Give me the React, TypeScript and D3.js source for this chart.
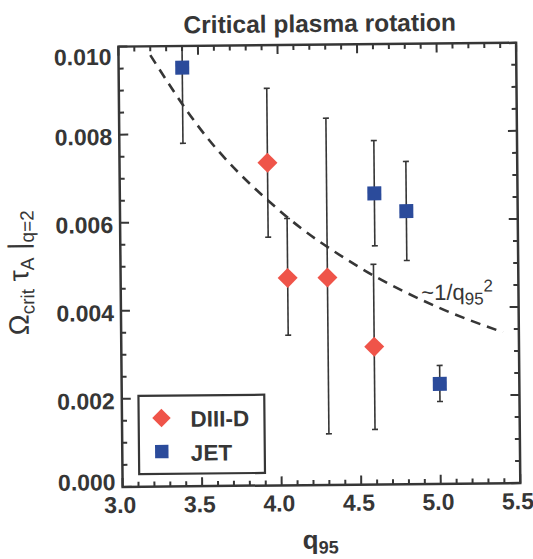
import React from 'react';
import * as d3 from 'd3';

// ---- data ----
const xTicks = [3.0, 3.5, 4.0, 4.5, 5.0, 5.5];
const yTicks = [0.0, 0.002, 0.004, 0.006, 0.008, 0.01];

const jetQ = [3.4, 4.6, 4.8, 5.0];
const jetVal = [0.00951, 0.00661, 0.0062, 0.00227];
const jetLow = [0.00779, 0.00542, 0.00508, 0.00187];
const jetHigh = [0.0101, 0.00781, 0.00733, 0.00269];

const diiidQ = [3.93, 4.05, 4.3, 4.59];
const diiidVal = [0.00733, 0.00471, 0.00471, 0.00313];
const diiidLow = [0.00564, 0.00341, 0.00116, 0.00125];
const diiidHigh = [0.00902, 0.00606, 0.00833, 0.005];

const curveQ = [3.2, 3.5, 4.0, 4.5, 5.0, 5.4];
const curveVal = [0.0098, 0.00816, 0.00625, 0.00494, 0.004, 0.00343];

const legendLabels = ['DIII-D', 'JET'];

// ---- layout ----
const W = 533;
const H = 559;
const L = 120.5;
const R = 518.2;
const T = 44.7;
const B = 485;
const INK = '#363636';
const RED = '#ef5449';
const BLUE = '#2b4b9b';
const FONT = "'Liberation Sans', Arial, Helvetica, sans-serif";

export default function App() {
  const x = d3.scaleLinear().domain([3.0, 5.5]).range([L, R]);
  const y = d3.scaleLinear().domain([0, 0.01]).range([B, T]);

  const xMinor = d3.range(0, 26).filter((i) => i % 5 !== 0).map((i) => 3 + i * 0.1);
  const yMinor = d3.range(0, 21).filter((i) => i % 4 !== 0).map((i) => i * 0.0005);

  const line = d3
    .line<number>()
    .x((_, i) => x(curveQ[i]))
    .y((d) => y(d))
    .curve(d3.curveMonotoneX);

  const diamond = d3.symbol().type(d3.symbolSquare).size(200)();
  const square = d3.symbol().type(d3.symbolSquare).size(196)();
  const legDiamond = d3.symbol().type(d3.symbolSquare).size(170)();
  const legSquare = d3.symbol().type(d3.symbolSquare).size(180)();

  const errBar = (q: number, lo: number, hi: number, key: string) => {
    const cx = x(q);
    const y1 = y(lo);
    const y2 = y(hi);
    return (
      <g key={key} stroke={INK} strokeWidth={1.6}>
        <line x1={cx} x2={cx} y1={y1} y2={y2} />
        <line x1={cx - 3} x2={cx + 3} y1={y1} y2={y1} />
        <line x1={cx - 3} x2={cx + 3} y1={y2} y2={y2} />
      </g>
    );
  };

  const yLabelPos = (v: number) => {
    const c = y(v) + 2;
    return Math.min(Math.max(c, T + 10), B - 5) + 8.2;
  };

  return (
    <svg
      width={W}
      height={H}
      style={{ position: 'absolute', left: 0, top: 0, background: '#fff' }}
      fontFamily={FONT}
    >
      <defs>
        <clipPath id="plotClip">
          <rect x={L} y={T} width={R - L} height={B - T} />
        </clipPath>
      </defs>
      <g transform="rotate(-0.55 319.35 264.85)">
        {/* title */}
        <text x={322} y={32} textAnchor="middle" fontSize={24.5} fontWeight="bold" fill={INK}>
          Critical plasma rotation
        </text>

        {/* fit curve */}
        <path
          d={line(curveVal) || ''}
          fill="none"
          stroke={INK}
          strokeWidth={2.6}
          strokeDasharray="10,7"
          clipPath="url(#plotClip)"
        />
        <text x={421} y={301} fontSize={22} fill={INK}>
          ~1/q
          <tspan fontSize={17} dy={5}>95</tspan>
          <tspan fontSize={17} dy={-13}>2</tspan>
        </text>

        {/* error bars */}
        <g clipPath="url(#plotClip)">
          {diiidQ.map((q, i) => errBar(q, diiidLow[i], diiidHigh[i], 'd' + i))}
          {jetQ.map((q, i) => errBar(q, jetLow[i], jetHigh[i], 'j' + i))}
        </g>

        {/* markers */}
        {diiidQ.map((q, i) => (
          <path
            key={'dm' + i}
            d={diamond || ''}
            transform={`translate(${x(q)},${y(diiidVal[i])}) rotate(45)`}
            fill={RED}
          />
        ))}
        {jetQ.map((q, i) => (
          <path
            key={'jm' + i}
            d={square || ''}
            transform={`translate(${x(q)},${y(jetVal[i])})`}
            fill={BLUE}
          />
        ))}

        {/* legend */}
        <rect x={137.2} y={394.2} width={125.8} height={78.2} fill="#fff" stroke={INK} strokeWidth={2.2} />
        <path d={legDiamond || ''} transform="translate(160,416.5) rotate(45)" fill={RED} />
        <path d={legSquare || ''} transform="translate(160,450)" fill={BLUE} />
        <text x={189} y={425.5} fontSize={22.5} fontWeight="bold" fill={INK}>
          {legendLabels[0]}
        </text>
        <text x={189} y={459.5} fontSize={22.5} fontWeight="bold" fill={INK}>
          {legendLabels[1]}
        </text>

        {/* axes frame */}
        <rect x={L} y={T} width={R - L} height={B - T} fill="none" stroke={INK} strokeWidth={2.5} />

        {/* ticks */}
        <g stroke={INK} strokeWidth={2}>
          {xTicks.map((t) => (
            <g key={'xt' + t}>
              <line x1={x(t)} x2={x(t)} y1={B} y2={B - 9} />
              <line x1={x(t)} x2={x(t)} y1={T} y2={T + 9} />
            </g>
          ))}
          {xMinor.map((t) => (
            <g key={'xm' + t}>
              <line x1={x(t)} x2={x(t)} y1={B} y2={B - 5} />
              <line x1={x(t)} x2={x(t)} y1={T} y2={T + 5} />
            </g>
          ))}
          {yTicks.map((t) => (
            <g key={'yt' + t}>
              <line x1={L} x2={L + 9} y1={y(t)} y2={y(t)} />
              <line x1={R} x2={R - 9} y1={y(t)} y2={y(t)} />
            </g>
          ))}
          {yMinor.map((t) => (
            <g key={'ym' + t}>
              <line x1={L} x2={L + 5} y1={y(t)} y2={y(t)} />
              <line x1={R} x2={R - 5} y1={y(t)} y2={y(t)} />
            </g>
          ))}
        </g>

        {/* tick labels */}
        {xTicks.map((t) => (
          <text
            key={'xl' + t}
            x={x(t) - 2.5}
            y={B + 26}
            textAnchor="middle"
            fontSize={23}
            fontWeight="bold"
            fill={INK}
          >
            {d3.format('.1f')(t)}
          </text>
        ))}
        {yTicks.map((t) => (
          <text
            key={'yl' + t}
            x={L - 7}
            y={yLabelPos(t)}
            textAnchor="end"
            fontSize={23}
            fontWeight="bold"
            fill={INK}
          >
            {d3.format('.3f')(t)}
          </text>
        ))}

        {/* x axis title */}
        <text x={318} y={548.5} textAnchor="middle" fontSize={26} fontWeight="bold" fill={INK}>
          q<tspan fontSize={18} dy={5}>95</tspan>
        </text>

        {/* y axis title */}
        <text
          transform="translate(28,270) rotate(-90)"
          textAnchor="middle"
          fontSize={28}
          fill={INK}
        >
          Ω<tspan fontSize={19} dy={6}>crit</tspan>
          <tspan dy={-6}> τ</tspan>
          <tspan fontSize={19} dy={6}>A</tspan>
          <tspan dy={-6}> |</tspan>
          <tspan fontSize={19} dy={6}>q=2</tspan>
        </text>
      </g>
    </svg>
  );
}
